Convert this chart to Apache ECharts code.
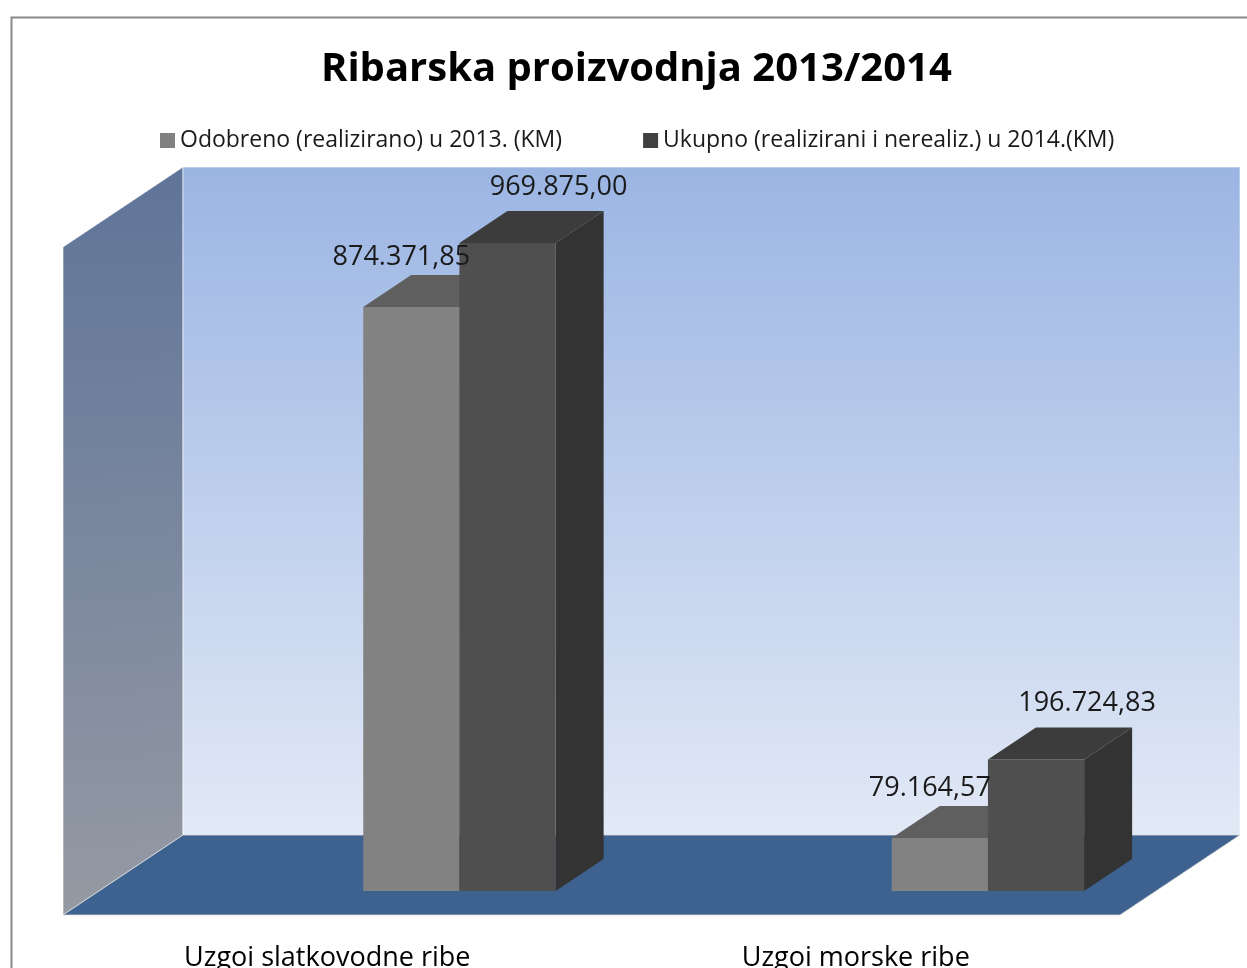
<!DOCTYPE html>
<html>
<head>
<meta charset="utf-8">
<title>Ribarska proizvodnja 2013/2014</title>
<script src="https://cdn.jsdelivr.net/npm/echarts@6/dist/echarts.min.js"></script>
<style>
  html, body { margin: 0; padding: 0; background: #fff; }
  #chart { width: 1247px; height: 968px; }
</style>
</head>
<body>
<div id="chart"></div>
<script>
const categories = ['Uzgoi slatkovodne ribe', 'Uzgoi morske ribe']
const seriesNames = ['Odobreno (realizirano) u 2013. (KM)', 'Ukupno (realizirani i nerealiz.) u 2014.(KM)']
const values2013 = [874371.85, 79164.57]
const values2014 = [969875.00, 196724.83]
const valueMax = 1000000

// 3D box look (pixels / fractions of depth)
const depthX = 120
const depthY = -80
const barDepthStart = 0.3
const barDepthEnd = 0.7
const barWidthRatio = 0.182

const fmt = v => {
  const parts = v.toFixed( 2 ).split( '.' )
  return parts[0].replace( /\B(?=(\d{3})+(?!\d))/g, '.' ) + ',' + parts[1]
}

const barStyles = [
  { front : '#828282', top : '#5f5f5f', side : '#5a5a5a', labelDx : -58, labelDy : -18 },
  { front : '#4f4f4f', top : '#3c3c3c', side : '#333333', labelDx : 3, labelDy : -24 }
]

// front-face geometry of one bar, shared by bars and their labels
const barBox = ( styleIdx, api ) => {
  const i = api.value( 0 )
  const v = api.value( 1 )
  const base = api.coord( [i, 0] )
  const top = api.coord( [i, v] )
  const band = api.size( [1, 0] )[0]
  const w = band * barWidthRatio
  return {
    v,
    w,
    x0 : base[0] + styleIdx * w + depthX * barDepthStart,
    yTop : top[1] + depthY * barDepthStart,
    yBase : base[1] + depthY * barDepthStart,
    bdx : depthX * ( barDepthEnd - barDepthStart ),
    bdy : depthY * ( barDepthEnd - barDepthStart )
  }
}

const renderBar = styleIdx => ( params, api ) => {
  const s = barStyles[styleIdx]
  const { w, x0, yTop, yBase, bdx, bdy } = barBox( styleIdx, api )
  return {
    type : 'group',
    children : [
      {
        type : 'polygon',
        shape : { points : [[x0 + w, yTop], [x0 + w + bdx, yTop + bdy], [x0 + w + bdx, yBase + bdy], [x0 + w, yBase]] },
        style : { fill : s.side }
      },
      {
        type : 'rect',
        shape : { x : x0, y : yTop, width : w, height : yBase - yTop },
        style : { fill : s.front }
      },
      {
        type : 'polygon',
        shape : { points : [[x0, yTop], [x0 + w, yTop], [x0 + w + bdx, yTop + bdy], [x0 + bdx, yTop + bdy]] },
        style : { fill : s.top }
      }
    ]
  }
}

const renderLabel = styleIdx => ( params, api ) => {
  const s = barStyles[styleIdx]
  const { v, w, x0, yTop, bdx, bdy } = barBox( styleIdx, api )
  return {
    type : 'text',
    style : {
      text : fmt( v ),
      x : x0 + w / 2 + bdx + s.labelDx,
      y : yTop + bdy + s.labelDy,
      align : 'center',
      verticalAlign : 'middle',
      fill : '#1a1a1a',
      font : '27px "Open Sans", sans-serif'
    }
  }
}

const renderWalls = ( params ) => {
  const c = params.coordSys
  const x = c.x, y = c.y, w = c.width, h = c.height
  return {
    type : 'group',
    children : [
      {
        type : 'polygon',
        shape : { points : [[x, y], [x + depthX, y + depthY], [x + depthX, y + h + depthY], [x, y + h]] },
        style : {
          fill : new echarts.graphic.LinearGradient( 0, 0, 0.3, 1, [
            { offset : 0, color : '#5f7499' },
            { offset : 1, color : '#959aa3' }
          ] ),
          stroke : 'rgba(255,255,255,0.6)',
          lineWidth : 1
        }
      },
      {
        type : 'rect',
        shape : { x : x + depthX, y : y + depthY, width : w, height : h },
        style : {
          fill : new echarts.graphic.LinearGradient( 0, 0, 0, 1, [
            { offset : 0, color : '#9bb5e3' },
            { offset : 1, color : '#e2e9f6' }
          ] ),
          stroke : 'rgba(255,255,255,0.6)',
          lineWidth : 1
        }
      },
      {
        type : 'polygon',
        shape : { points : [[x, y + h], [x + depthX, y + h + depthY], [x + w + depthX, y + h + depthY], [x + w, y + h]] },
        style : { fill : '#3d6290', stroke : 'rgba(220,220,220,0.8)', lineWidth : 1 }
      }
    ]
  }
}

const chart = echarts.init( document.getElementById( 'chart' ), null, { renderer : 'canvas' } )
chart.setOption( {
  animation : false,
  backgroundColor : '#fff',
  title : {
    text : 'Ribarska proizvodnja 2013/2014',
    left : 316,
    top : 45,
    textStyle : {
      fontFamily : '"Open Sans", sans-serif',
      fontWeight : 'bold',
      fontSize : 40,
      color : '#000'
    }
  },
  legend : {
    data : seriesNames,
    left : 155,
    top : 124,
    icon : 'rect',
    itemWidth : 15,
    itemHeight : 15,
    itemGap : 81,
    textStyle : {
      fontFamily : '"Open Sans", sans-serif',
      fontSize : 23,
      color : '#1a1a1a'
    }
  },
  graphic : [
    {
      type : 'rect',
      left : 9,
      top : 15,
      shape : { width : 1300, height : 1000 },
      style : { fill : 'none', stroke : '#8a8a8a', lineWidth : 2 },
      z : -10
    }
  ],
  grid : {
    left : 63,
    top : 247,
    width : 1057,
    height : 668,
    containLabel : false,
    outerBoundsMode : 'none'
  },
  xAxis : {
    type : 'category',
    data : categories,
    axisLine : { show : false },
    axisTick : { show : false },
    axisLabel : {
      margin : 30,
      fontFamily : '"Open Sans", sans-serif',
      fontSize : 27,
      color : '#000'
    }
  },
  yAxis : {
    type : 'value',
    min : 0,
    max : valueMax,
    show : false
  },
  series : [
    {
      type : 'custom',
      name : 'walls',
      renderItem : renderWalls,
      data : [[0, 0]],
      silent : true,
      z : 1
    },
    {
      type : 'custom',
      name : seriesNames[0],
      renderItem : renderBar( 0 ),
      encode : { x : 0, y : 1 },
      itemStyle : { color : '#808080' },
      data : values2013.map( ( v, i ) => [i, v] ),
      z : 2
    },
    {
      type : 'custom',
      name : seriesNames[1],
      renderItem : renderBar( 1 ),
      encode : { x : 0, y : 1 },
      itemStyle : { color : '#404040' },
      data : values2014.map( ( v, i ) => [i, v] ),
      z : 3
    },
    {
      type : 'custom',
      name : 'labels2013',
      renderItem : renderLabel( 0 ),
      encode : { x : 0, y : 1 },
      data : values2013.map( ( v, i ) => [i, v] ),
      silent : true,
      z : 4
    },
    {
      type : 'custom',
      name : 'labels2014',
      renderItem : renderLabel( 1 ),
      encode : { x : 0, y : 1 },
      data : values2014.map( ( v, i ) => [i, v] ),
      silent : true,
      z : 4
    }
  ]
} )
</script>
</body>
</html>
